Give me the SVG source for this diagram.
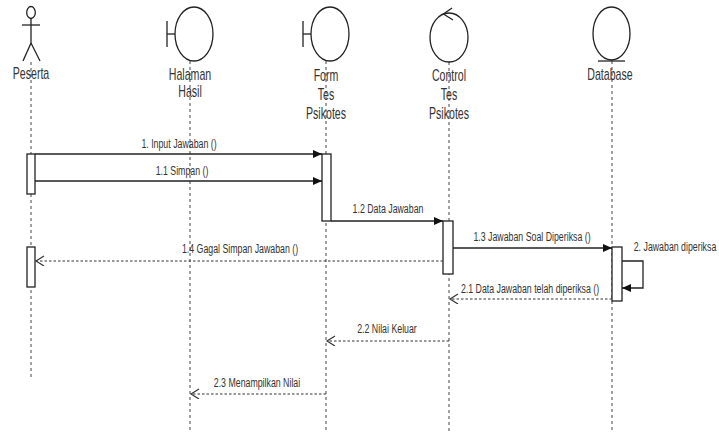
<svg xmlns="http://www.w3.org/2000/svg" width="719" height="433" viewBox="0 0 719 433">
<style>
.sh{fill:none;stroke:#222;stroke-width:1.3}
.life{fill:none;stroke:#444;stroke-width:1;stroke-dasharray:3,3}
.act{fill:#fff;stroke:#222;stroke-width:1.3}
.msg{fill:none;stroke:#222;stroke-width:1.3}
.ret{fill:none;stroke:#333;stroke-width:1.1;stroke-dasharray:2.5,2}
.nl{font-family:"Liberation Sans",Arial,sans-serif;font-size:10.6px;fill:#333;text-anchor:middle}
.ml{font-family:"Liberation Sans",Arial,sans-serif;font-size:8.8px;fill:#333;text-anchor:middle}
</style>
<defs>
<marker id="fill" markerUnits="userSpaceOnUse" markerWidth="10" markerHeight="10" refX="9" refY="4" orient="auto">
<path d="M0,0 L9,4 L0,8 z" fill="#111"/>
</marker>
<marker id="open" markerUnits="userSpaceOnUse" markerWidth="12" markerHeight="12" refX="9" refY="5" orient="auto">
<path d="M1,0 L9,5 L1,10" fill="none" stroke="#333" stroke-width="1.2"/>
</marker>
</defs>
<rect width="719" height="433" fill="#fff"/>

<g id="peserta">
<line class="life" x1="31" y1="62" x2="31" y2="380"/>
<ellipse class="sh" cx="31" cy="12.5" rx="4.3" ry="6"/>
<line class="sh" x1="31" y1="18.5" x2="31" y2="43"/>
<line class="sh" x1="22" y1="25" x2="40" y2="25"/>
<line class="sh" x1="31" y1="43" x2="23" y2="61"/>
<line class="sh" x1="31" y1="43" x2="40" y2="61"/>
<text class="nl" transform="translate(31,79) scale(1,1.5)">Peserta</text>
<rect class="act" x="27" y="154" width="8" height="40"/>
<rect class="act" x="27" y="247" width="8" height="40"/>
</g>

<g id="halaman">
<line class="life" x1="190" y1="61" x2="190" y2="433"/>
<ellipse class="sh" cx="194" cy="34" rx="19" ry="27"/>
<line class="sh" x1="167" y1="34" x2="175" y2="34"/>
<line class="sh" x1="167" y1="21" x2="167" y2="47"/>
<text class="nl" transform="translate(190,80) scale(1,1.5)">Halaman</text>
<text class="nl" transform="translate(190,97) scale(1,1.5)">Hasil</text>
</g>

<g id="form">
<line class="life" x1="326" y1="61" x2="326" y2="433"/>
<ellipse class="sh" cx="330" cy="34" rx="19" ry="27"/>
<line class="sh" x1="303" y1="34" x2="311" y2="34"/>
<line class="sh" x1="303" y1="21" x2="303" y2="47"/>
<text class="nl" transform="translate(326,81) scale(1,1.5)">Form</text>
<text class="nl" transform="translate(326,100) scale(1,1.5)">Tes</text>
<text class="nl" transform="translate(326,119) scale(1,1.5)">Psikotes</text>
<rect class="act" x="322" y="154" width="9" height="67"/>
</g>

<g id="control">
<line class="life" x1="449" y1="62" x2="449" y2="433"/>
<ellipse class="sh" cx="449" cy="37.5" rx="19" ry="24.5"/>
<path class="sh" d="M452,8 L443.5,14 L453,20"/>
<text class="nl" transform="translate(449,81) scale(1,1.5)">Control</text>
<text class="nl" transform="translate(449,100) scale(1,1.5)">Tes</text>
<text class="nl" transform="translate(449,119) scale(1,1.5)">Psikotes</text>
<rect class="act" x="443" y="221" width="10" height="53"/>
</g>

<g id="database">
<line class="life" x1="612" y1="61" x2="612" y2="433"/>
<ellipse class="sh" cx="611.5" cy="33.5" rx="18.5" ry="26.5"/>
<line class="sh" x1="598" y1="61" x2="625" y2="61"/>
<text class="nl" transform="translate(610,80) scale(1,1.5)">Database</text>
<rect class="act" x="612" y="247" width="10" height="54"/>
</g>

<g id="connectors">
<line class="msg" x1="35" y1="154" x2="322" y2="154" marker-end="url(#fill)"/>
<line class="msg" x1="35" y1="181" x2="322" y2="181" marker-end="url(#fill)"/>
<line class="msg" x1="331" y1="221" x2="443" y2="221" marker-end="url(#fill)"/>
<line class="msg" x1="453" y1="248" x2="612" y2="248" marker-end="url(#fill)"/>
<polyline class="msg" points="622,261 643,261 643,288 622,288" marker-end="url(#fill)"/>
<line class="ret" x1="443" y1="261" x2="36" y2="261" marker-end="url(#open)"/>
<line class="ret" x1="612" y1="299" x2="450" y2="299" marker-end="url(#open)"/>
<line class="ret" x1="449" y1="341" x2="327" y2="341" marker-end="url(#open)"/>
<line class="ret" x1="326" y1="394" x2="191" y2="394" marker-end="url(#open)"/>
</g>

<g id="labels">
<text class="ml" transform="translate(179,148) scale(1,1.4)">1. Input Jawaban ()</text>
<text class="ml" transform="translate(182,175) scale(1,1.4)">1.1 Simpan ()</text>
<text class="ml" transform="translate(388,213) scale(1,1.4)">1.2 Data Jawaban</text>
<text class="ml" transform="translate(532,241) scale(1,1.4)">1.3 Jawaban Soal Diperiksa ()</text>
<text class="ml" transform="translate(675,251) scale(1,1.4)">2. Jawaban diperiksa</text>
<text class="ml" transform="translate(240,253) scale(1,1.4)">1.4 Gagal Simpan Jawaban ()</text>
<text class="ml" transform="translate(530,293) scale(1,1.4)">2.1  Data Jawaban telah diperiksa ()</text>
<text class="ml" transform="translate(387,333) scale(1,1.4)">2.2 Nilai Keluar</text>
<text class="ml" transform="translate(257,387) scale(1,1.4)">2.3 Menampilkan Nilai</text>
</g>
</svg>
